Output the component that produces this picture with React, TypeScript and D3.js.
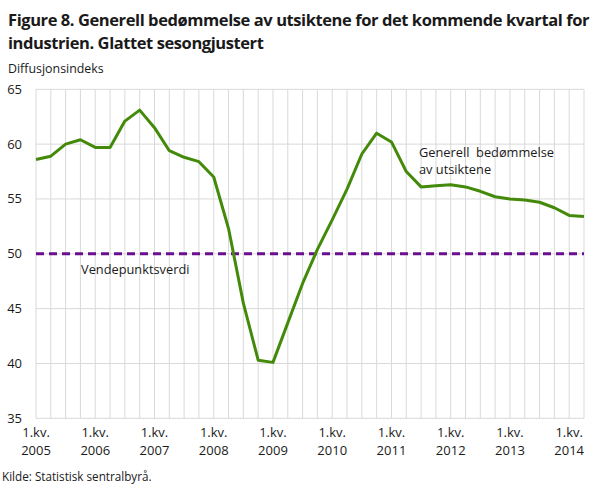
import React from "react";
import * as d3 from "d3";

const categories = [
  "2005K1","2005K2","2005K3","2005K4",
  "2006K1","2006K2","2006K3","2006K4",
  "2007K1","2007K2","2007K3","2007K4",
  "2008K1","2008K2","2008K3","2008K4",
  "2009K1","2009K2","2009K3","2009K4",
  "2010K1","2010K2","2010K3","2010K4",
  "2011K1","2011K2","2011K3","2011K4",
  "2012K1","2012K2","2012K3","2012K4",
  "2013K1","2013K2","2013K3","2013K4",
  "2014K1","2014K2",
];

const generell = [
  58.6, 58.9, 60.0, 60.4,
  59.7, 59.7, 62.1, 63.1,
  61.5, 59.4, 58.8, 58.4,
  57.0, 52.3, 45.5, 40.3,
  40.1, 43.7, 47.3, 50.4,
  53.1, 55.9, 59.1, 61.0,
  60.2, 57.5, 56.1, 56.2,
  56.3, 56.1, 55.7, 55.2,
  55.0, 54.9, 54.7, 54.2,
  53.5, 53.4,
];

const vendepunkt = 50;
const yTicks = [35, 40, 45, 50, 55, 60, 65];
const yearLabels = ["2005","2006","2007","2008","2009","2010","2011","2012","2013","2014"];

const title1 = "Figure 8. Generell bedømmelse av utsiktene for det kommende kvartal for";
const title2 = "industrien. Glattet sesongjustert";
const yTitle = "Diffusjonsindeks";
const source = "Kilde: Statistisk sentralbyrå.";
const seriesLabel = ["Generell\u00a0 bedømmelse", "av utsiktene"];
const refLabel = "Vendepunktsverdi";

const W = 611;
const H = 487;
const left = 36;
const right = 584;
const top = 89.3;
const bottom = 418.3;
const font = "'Open Sans', 'Noto Sans', sans-serif";

export default function App() {
  const x = d3.scalePoint<string>().domain(categories).range([left, right]);
  const y = d3.scaleLinear().domain([35, 65]).range([bottom, top]);
  const line = d3
    .line<number>()
    .x((_, i) => x(categories[i]) as number)
    .y((d) => y(d));

  return (
    <svg
      width={W}
      height={H}
      viewBox={`0 0 ${W} ${H}`}
      style={{ position: "absolute", left: 0, top: 0, background: "#fff" }}
      fontFamily={font}
    >
      <text x={8} y={26} fontSize={16.5} fontWeight={700} fill="#1a1a1a" letterSpacing={-0.42}>
        {title1}
      </text>
      <text x={8} y={49} fontSize={16.5} fontWeight={700} fill="#1a1a1a" letterSpacing={-0.42}>
        {title2}
      </text>
      <text x={8} y={73} fontSize={12.4} fill="#1a1a1a">
        {yTitle}
      </text>

      {/* grid */}
      {yTicks.map((t) => (
        <line key={"h" + t} x1={left} x2={right} y1={y(t)} y2={y(t)} stroke="#d9d9d9" strokeWidth={1} />
      ))}
      {categories.map((c) => (
        <line key={"v" + c} x1={x(c)} x2={x(c)} y1={top} y2={bottom} stroke="#d9d9d9" strokeWidth={1} />
      ))}

      {/* y labels */}
      {yTicks.map((t) => (
        <text key={"yl" + t} x={22} y={y(t) + 4.5} fontSize={13} textAnchor="end" fill="#1a1a1a">
          {t}
        </text>
      ))}

      {/* x labels */}
      {yearLabels.map((yr) => {
        const cx = x(yr + "K1") as number;
        return (
          <g key={"xl" + yr}>
            <text x={cx} y={437} fontSize={13} textAnchor="middle" fill="#1a1a1a">
              1.kv.
            </text>
            <text x={cx} y={455} fontSize={13} textAnchor="middle" fill="#1a1a1a">
              {yr}
            </text>
          </g>
        );
      })}

      {/* reference line */}
      <line
        x1={left}
        x2={right}
        y1={y(vendepunkt)}
        y2={y(vendepunkt)}
        stroke="#6a0f8e"
        strokeWidth={3}
        strokeDasharray="8,5"
      />

      <path d={line(generell) || ""} fill="none" stroke="#438a0a" strokeWidth={3} strokeLinejoin="round" />

      <text x={419} y={156.5} fontSize={12.8} fill="#1a1a1a">
        {seriesLabel[0]}
      </text>
      <text x={419} y={174} fontSize={12.8} fill="#1a1a1a">
        {seriesLabel[1]}
      </text>
      <text x={81} y={274} fontSize={12.8} fill="#1a1a1a">
        {refLabel}
      </text>

      <text x={2} y={481} fontSize={11.7} fill="#1a1a1a">
        {source}
      </text>
    </svg>
  );
}
